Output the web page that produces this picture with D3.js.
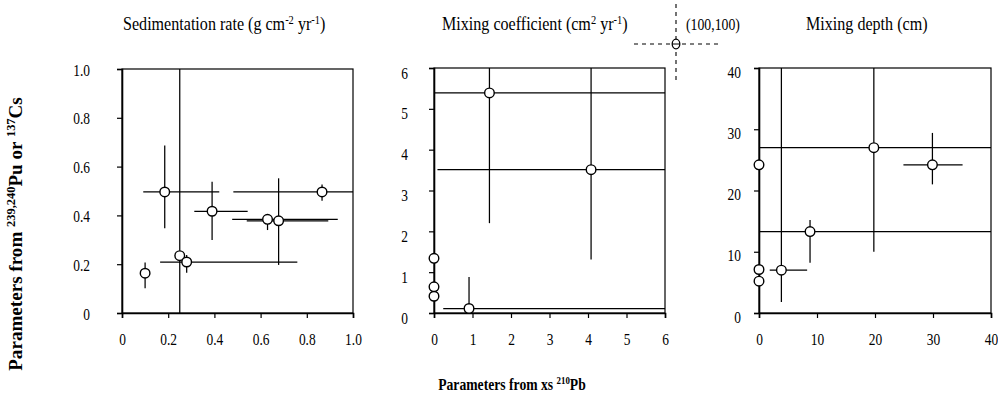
<!DOCTYPE html>
<html><head><meta charset="utf-8">
<script src="https://cdn.jsdelivr.net/npm/d3@7"></script>
<style>body{margin:0;background:#fff}svg{display:block}text{font-family:"Liberation Serif","DejaVu Serif",serif}</style>
</head><body>
<svg id="c" width="998" height="396"></svg>
<script>
// ---------- DATA ----------
// Panel 1: Sedimentation rate (g cm-2 yr-1)
const sedX    = [0.10, 0.185, 0.39, 0.866, 0.63, 0.678, 0.25, 0.28];
const sedY    = [0.163, 0.496, 0.417, 0.496, 0.384, 0.378, 0.235, 0.209];
const sedXLo  = [null, 0.092, 0.313, 0.482, 0.477, 0.54, null, 0.165];
const sedXHi  = [null, 0.421, 0.544, 1.10, 0.934, 0.893, null, 0.759];
const sedYLo  = [0.101, 0.347, 0.299, 0.46, 0.34, 0.197, -0.10, 0.165];
const sedYHi  = [0.207, 0.686, 0.538, 0.527, 0.40, 0.552, 1.10, 0.238];
const sedTicks = [0, 0.2, 0.4, 0.6, 0.8, 1.0];
const sedTickLabels = ["0", "0.2", "0.4", "0.6", "0.8", "1.0"];

// Panel 2: Mixing coefficient (cm2 yr-1)
const mixX    = [1.44, 4.08, 0, 0, 0, 0.91];
const mixY    = [5.39, 3.51, 1.34, 0.64, 0.41, 0.11];
const mixXLo  = [-0.5, 0.09, null, null, null, 0.24];
const mixXHi  = [6.5, 6.5, null, null, null, 6.5];
const mixYLo  = [2.2, 1.31, 0.0, null, null, 0.0];
const mixYHi  = [6.5, 6.5, 1.9, null, null, 0.88];
const mixTicks = [0, 1, 2, 3, 4, 5, 6];
const mixTickLabels = ["0", "1", "2", "3", "4", "5", "6"];
const mixOutlier = [100, 100];

// Panel 3: Mixing depth (cm)
const depX    = [0, 0, 0, 19.8, 29.9, 8.8, 3.86];
const depY    = [24.2, 7.1, 5.2, 27.0, 24.2, 13.3, 7.0];
const depXLo  = [null, null, null, -2, 24.9, -2, 1.85];
const depXHi  = [null, null, null, 45, 35.1, 45, 8.3];
const depYLo  = [null, null, null, 10.0, 21.0, 8.2, 1.8];
const depYHi  = [null, null, null, 45, 29.4, 15.2, 45];
const depTicks = [0, 10, 20, 30, 40];
const depTickLabels = ["0", "10", "20", "30", "40"];

// ---------- DRAW ----------
const FONT = "Liberation Serif, DejaVu Serif, serif";
const SX = 0.84;   // horizontal condensing of the serif type
const TICK_FS = 16;
const svg = d3.select("#c");
const defs = svg.append("defs");

const panels = [
  {id:"p1", left:122, right:353, top:69, bottom:313, dom:[0,1],
   xs:sedX, ys:sedY, xlo:sedXLo, xhi:sedXHi, ylo:sedYLo, yhi:sedYHi,
   ticks:sedTicks, labels:sedTickLabels, yLabOff:32, yLabDy:1,
   title:[["Sedimentation rate (g cm",0],["-2",1],[" yr",0],["-1",1],[")",0]], titleX:123},
  {id:"p2", left:434, right:665, top:68, bottom:313, dom:[0,6],
   xs:mixX, ys:mixY, xlo:mixXLo, xhi:mixXHi, ylo:mixYLo, yhi:mixYHi,
   ticks:mixTicks, labels:mixTickLabels, yLabOff:26, yLabDy:5,
   title:[["Mixing coefficient (cm",0],["2",1],[" yr",0],["-1",1],[")",0]], titleX:442},
  {id:"p3", left:759, right:991, top:68, bottom:313, dom:[0,40],
   xs:depX, ys:depY, xlo:depXLo, xhi:depXHi, ylo:depYLo, yhi:depYHi,
   ticks:depTicks, labels:depTickLabels, yLabOff:18, yLabDy:4,
   title:[["Mixing depth (cm)",0]], titleX:806}
];

function addText(g, x, y, parts, size, opts={}) {
  const t = g.append("text")
    .attr("transform", `translate(${x},${y})` + (opts.rot ? ` rotate(${opts.rot})` : "") + ` scale(${opts.sx||SX},1)`)
    .attr("font-family", FONT).attr("font-size", size)
    .attr("font-weight", opts.bold ? "bold" : "normal")
    .attr("text-anchor", opts.anchor || "start")
    .attr("fill", "#000");
  parts.forEach(([s, sup]) => {
    const ts = t.append("tspan").text(s);
    if (sup) ts.attr("font-size", size * 0.65).attr("baseline-shift", "super");
  });
  return t;
}

panels.forEach(p => {
  const x = d3.scaleLinear().domain(p.dom).range([p.left, p.right]);
  const y = d3.scaleLinear().domain(p.dom).range([p.bottom, p.top]);
  const g = svg.append("g");

  defs.append("clipPath").attr("id", "clip-" + p.id)
    .append("rect").attr("x", p.left).attr("y", p.top)
    .attr("width", p.right - p.left).attr("height", p.bottom - p.top);

  // frame
  g.append("rect").attr("x", p.left).attr("y", p.top)
    .attr("width", p.right - p.left).attr("height", p.bottom - p.top)
    .attr("fill", "none").attr("stroke", "#000").attr("stroke-width", 1.2);

  // axes
  const xa = g.append("g").attr("transform", `translate(0,${p.bottom})`)
    .call(d3.axisBottom(x).tickValues(p.ticks).tickFormat((d,i)=>p.labels[i]).tickSize(5).tickPadding(16));
  xa.selectAll("text").attr("font-family", FONT).attr("font-size", TICK_FS)
    .attr("fill", "#000").attr("transform", `scale(${SX},1)`);
  const ya = g.append("g").attr("transform", `translate(${p.left},0)`)
    .call(d3.axisLeft(y).tickValues(p.ticks).tickFormat((d,i)=>p.labels[i]).tickSize(5));
  ya.selectAll("text").attr("font-family", FONT).attr("font-size", TICK_FS)
    .attr("fill", "#000").attr("x", -p.yLabOff / SX).attr("dy", "0.32em")
    .attr("transform", `translate(0,${p.yLabDy}) scale(${SX},1)`);
  g.selectAll(".domain").attr("stroke-width", 1.6);
  g.selectAll(".tick line").attr("stroke-width", 1.2);

  // error bars
  const idx = d3.range(p.xs.length);
  const eb = g.append("g").attr("clip-path", `url(#clip-${p.id})`)
    .attr("stroke", "#000").attr("stroke-width", 1.25);
  eb.selectAll("line.h").data(idx.filter(i => p.xlo[i] !== null)).join("line")
    .attr("class", "h")
    .attr("x1", i => x(p.xlo[i])).attr("x2", i => x(p.xhi[i]))
    .attr("y1", i => y(p.ys[i])).attr("y2", i => y(p.ys[i]));
  eb.selectAll("line.v").data(idx.filter(i => p.ylo[i] !== null)).join("line")
    .attr("class", "v")
    .attr("x1", i => x(p.xs[i])).attr("x2", i => x(p.xs[i]))
    .attr("y1", i => y(p.ylo[i])).attr("y2", i => y(p.yhi[i]));

  // points
  g.selectAll("circle.pt").data(idx).join("circle")
    .attr("class", "pt")
    .attr("cx", i => x(p.xs[i])).attr("cy", i => y(p.ys[i])).attr("r", 4.8)
    .attr("fill", "#fff").attr("stroke", "#000").attr("stroke-width", 1.4);

  // title
  addText(g, p.titleX, 30, p.title, 18.5, {sx: 0.87});
});

// outlier annotation for mixing coefficient (off-scale point)
{
  const p = panels[1];
  const ox = p.right + 11, oy = p.top - 24;
  const a = svg.append("g").attr("stroke", "#000").attr("stroke-width", 1.1)
    .attr("stroke-dasharray", "4,4");
  a.append("line").attr("x1", ox - 42).attr("x2", ox + 42).attr("y1", oy).attr("y2", oy);
  a.append("line").attr("x1", ox).attr("x2", ox).attr("y1", 4).attr("y2", 80);
  svg.append("ellipse").attr("cx", ox).attr("cy", oy).attr("rx", 3.8).attr("ry", 4.8)
    .attr("fill", "#fff").attr("stroke", "#000").attr("stroke-width", 1.3);
  svg.append("line").attr("x1", ox - 3.8).attr("x2", ox + 3.8).attr("y1", oy).attr("y2", oy)
    .attr("stroke", "#000").attr("stroke-width", 1);
  addText(svg, 686, 30, [[`(${mixOutlier[0]},${mixOutlier[1]})`,0]], 16, {sx: 0.86});
}

// axis titles
addText(svg, 512, 390, [["Parameters from xs ",0],["210",1],["Pb",0]], 17.5, {bold:true, anchor:"middle", sx:0.78});
addText(svg, 22, 234, [["Parameters from ",0],["239,240",1],["Pu or ",0],["137",1],["Cs",0]], 19.5, {bold:true, anchor:"middle", sx:0.98, rot:-90});
</script>
</body></html>
